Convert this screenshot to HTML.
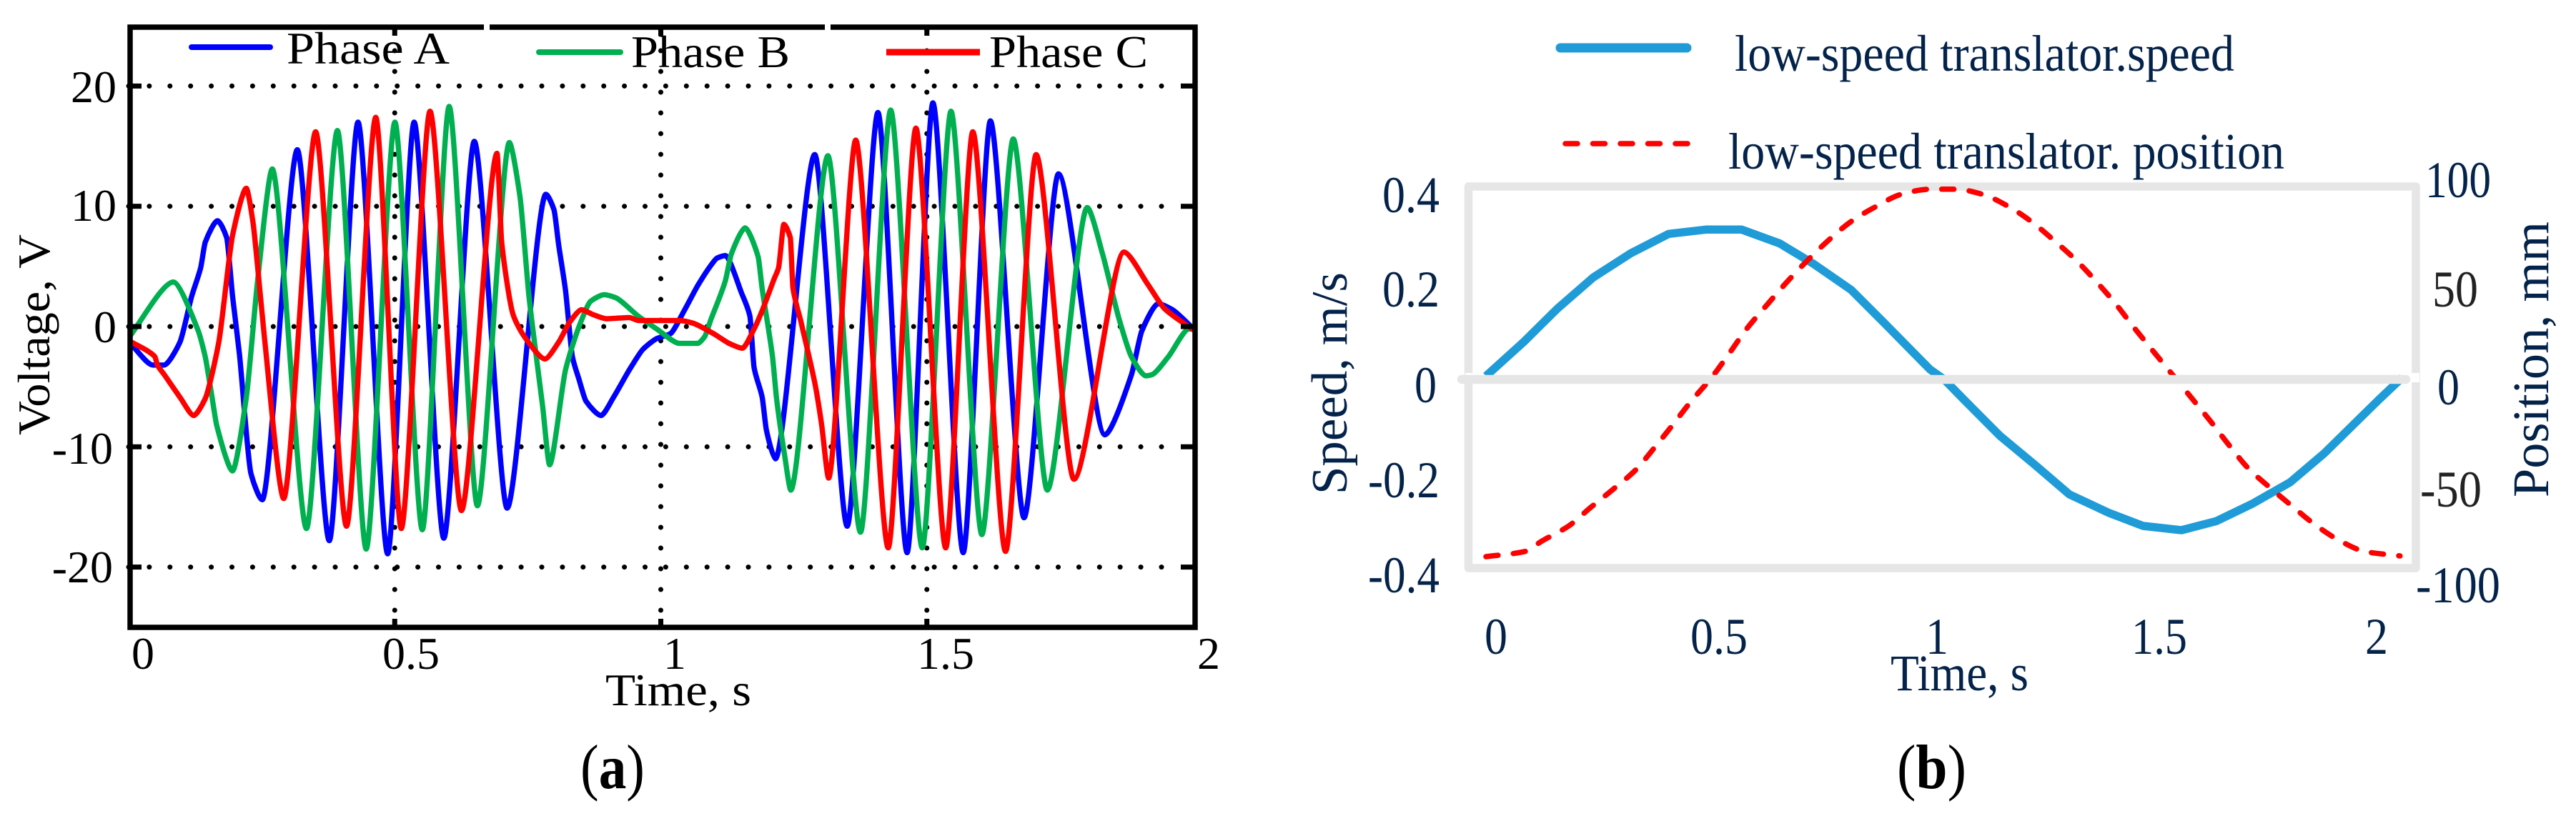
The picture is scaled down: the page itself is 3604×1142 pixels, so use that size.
<!DOCTYPE html>
<html lang="en">
<head>
<meta charset="utf-8">
<title>Phase voltage and translator motion</title>
<style>
html,body{margin:0;padding:0;background:#fff;width:3604px;height:1142px;overflow:hidden}
svg{display:block}
text{font-family:"Liberation Serif",serif}
.navy{fill:#04234a}
.blk{fill:#000}
</style>
</head>
<body>
<svg id="fig" xmlns="http://www.w3.org/2000/svg" width="3604" height="1142" viewBox="0 0 3604 1142">
  <rect x="0" y="0" width="3604" height="1142" fill="#fff"/>
  <g id="gridA"></g>
  <g id="linesA"></g>
  <g id="axesA"></g>
  <g font-size="64" class="blk">
    <line x1="268" y1="66" x2="378" y2="66" stroke="#0000ff" stroke-width="8" stroke-linecap="round"/>
    <text x="401" y="89" textLength="228" lengthAdjust="spacingAndGlyphs">Phase A</text>
    <line x1="754" y1="73" x2="868" y2="73" stroke="#00b050" stroke-width="8" stroke-linecap="round"/>
    <text x="883" y="94" textLength="222" lengthAdjust="spacingAndGlyphs">Phase B</text>
    <line x1="1240" y1="73" x2="1371" y2="73" stroke="#ff0000" stroke-width="9"/>
    <text x="1384" y="94" textLength="222" lengthAdjust="spacingAndGlyphs">Phase C</text>
  </g>
  <g font-size="64" class="blk">
    <text x="163" y="143" text-anchor="end">20</text>
    <text x="163" y="309" text-anchor="end">10</text>
    <text x="163" y="479" text-anchor="end">0</text>
    <text x="158" y="649" text-anchor="end">-10</text>
    <text x="158" y="815" text-anchor="end">-20</text>
  </g>
  <g font-size="64" class="blk">
    <text x="184" y="936">0</text>
    <text x="535" y="936">0.5</text>
    <text x="928" y="936">1</text>
    <text x="1283" y="936">1.5</text>
    <text x="1675" y="936">2</text>
  </g>
  <text x="847" y="987" font-size="64" class="blk" textLength="204" lengthAdjust="spacingAndGlyphs">Time, s</text>
  <text transform="translate(69,609) rotate(-90)" font-size="64" class="blk" textLength="281" lengthAdjust="spacingAndGlyphs">Voltage, V</text>
  <text x="812" y="1103" font-size="88" class="blk" textLength="90" lengthAdjust="spacingAndGlyphs">(<tspan font-weight="bold">a</tspan>)</text>

  <g id="frameB"></g>
  <g id="linesB"></g>
  <g id="zeroB"></g>
  <g font-size="72" class="navy">
    <line x1="2183" y1="67" x2="2360" y2="67" stroke="#1f9cd8" stroke-width="13" stroke-linecap="round"/>
    <text x="2427" y="99" textLength="699" lengthAdjust="spacingAndGlyphs">low-speed translator.speed</text>
    <line x1="2190" y1="201" x2="2364" y2="201" stroke="#ff0000" stroke-width="7.5" stroke-linecap="round" stroke-dasharray="17 21.5"/>
    <text x="2418" y="236" textLength="778" lengthAdjust="spacingAndGlyphs">low-speed translator. position</text>
  </g>
  <g font-size="72" class="navy">
    <text x="1934" y="297" textLength="80" lengthAdjust="spacingAndGlyphs">0.4</text>
    <text x="1934" y="429" textLength="80" lengthAdjust="spacingAndGlyphs">0.2</text>
    <text x="1979" y="563" textLength="31" lengthAdjust="spacingAndGlyphs">0</text>
    <text x="1914" y="696" textLength="100" lengthAdjust="spacingAndGlyphs">-0.2</text>
    <text x="1914" y="829" textLength="100" lengthAdjust="spacingAndGlyphs">-0.4</text>
  </g>
  <g font-size="72" class="navy">
    <text x="3393" y="276" textLength="92" lengthAdjust="spacingAndGlyphs">100</text>
    <text x="3403" y="429" textLength="64" lengthAdjust="spacingAndGlyphs" style="fill:#222">50</text>
    <text x="3410" y="566" textLength="31" lengthAdjust="spacingAndGlyphs">0</text>
    <text x="3386" y="709" textLength="86" lengthAdjust="spacingAndGlyphs" style="fill:#222">-50</text>
    <text x="3380" y="843" textLength="118" lengthAdjust="spacingAndGlyphs">-100</text>
  </g>
  <g font-size="72" class="navy">
    <text x="2077" y="915" textLength="32" lengthAdjust="spacingAndGlyphs">0</text>
    <text x="2365" y="915" textLength="80" lengthAdjust="spacingAndGlyphs">0.5</text>
    <text x="2694" y="915" textLength="32" lengthAdjust="spacingAndGlyphs">1</text>
    <text x="2982" y="915" textLength="78" lengthAdjust="spacingAndGlyphs">1.5</text>
    <text x="3309" y="915" textLength="32" lengthAdjust="spacingAndGlyphs">2</text>
  </g>
  <text x="2645" y="966" font-size="72" class="navy" textLength="193" lengthAdjust="spacingAndGlyphs">Time, s</text>
  <text transform="translate(1884,692) rotate(-90)" font-size="71" class="navy" textLength="311" lengthAdjust="spacingAndGlyphs">Speed, m/s</text>
  <text transform="translate(3565,696) rotate(-90)" font-size="72" class="navy" textLength="386" lengthAdjust="spacingAndGlyphs">Position, mm</text>
  <text x="2654" y="1103" font-size="88" class="blk" textLength="97" lengthAdjust="spacingAndGlyphs">(<tspan font-weight="bold">b</tspan>)</text>
</svg>
<script>
var voltageXTicks = [0.5, 1, 1.5];
var voltageYTicks = [20, 10, 0, -10, -20];

var phaseATime = [0,0.044,0.0655,0.095,0.117,0.134,0.1425,0.1657,0.1828,0.194,0.2068,0.2283,0.2497,0.3157,0.3757,0.4297,0.4854,0.5351,0.5908,0.6482,0.7099,0.7827,0.798,0.8067,0.8196,0.8325,0.845,0.858,0.8864,0.9096,0.9396,0.965,0.991,1.0167,1.0424,1.068,1.093,1.1045,1.1199,1.1507,1.1662,1.1739,1.1893,1.197,1.214,1.288,1.3489,1.4067,1.4615,1.51,1.567,1.618,1.6812,1.746,1.833,1.8832,1.9024,1.9333,1.96,2];
var phaseAVolts = [-1.3,-3.2,-3.2,-1.3,2.5,4.9,7,8.8,7.4,2.5,-2.3,-12.2,-14.4,14.7,-17.8,17,-18.9,17,-17.6,15.4,-15.1,11,9.7,6.8,3,-2.5,-4.4,-6.2,-7.4,-5.9,-3.6,-1.9,-1,-0.6,1.3,3.4,5.1,5.7,5.9,2.75,0.85,-3.4,-5.9,-8.6,-11,14.3,-16.6,17.8,-18.8,18.6,-18.8,17.1,-15.9,12.7,-9,-4,-0.4,1.9,1.4,-0.2];

var phaseBTime = [0,0.0826,0.1297,0.1425,0.1554,0.164,0.194,0.2197,0.241,0.2685,0.3328,0.391,0.445,0.499,0.5505,0.601,0.654,0.714,0.734,0.751,0.777,0.7896,0.8196,0.845,0.8667,0.8924,0.9138,0.9567,0.991,1.0338,1.068,1.081,1.093,1.12,1.131,1.157,1.1816,1.189,1.2086,1.216,1.2317,1.243,1.3127,1.374,1.4306,1.49,1.544,1.602,1.661,1.725,1.8,1.829,1.86,1.883,1.91,1.922,1.9526,1.991,2];
var phaseBVolts = [-0.85,3.7,-0.4,-2.5,-5.9,-8.2,-12,-5.9,3.8,13.1,-16.8,16.3,-18.5,17,-16.9,18.3,-14.9,15.3,10.8,2.5,-6.8,-11.5,-3.6,0,2.1,2.65,2.4,0.85,-0.2,-1.4,-1.4,-0.85,0.6,3.8,6,8.2,5.8,3.2,-2.5,-5.9,-10.8,-13.6,14.2,-17.1,18,-18.4,17.9,-17.3,15.6,-13.6,9.9,6,0.6,-2.5,-4.1,-4,-2.5,-0.2,-0.2];

var phaseCTime = [0,0.048,0.0526,0.0655,0.0954,0.121,0.1425,0.168,0.194,0.2197,0.2325,0.241,0.254,0.29,0.35,0.408,0.463,0.511,0.565,0.624,0.691,0.6996,0.721,0.7425,0.781,0.8067,0.828,0.8496,0.871,0.8967,0.9396,0.9567,1.034,1.058,1.1,1.127,1.152,1.174,1.189,1.212,1.22,1.23,1.242,1.247,1.262,1.289,1.301,1.314,1.365,1.426,1.478,1.534,1.585,1.6465,1.704,1.775,1.869,1.914,1.945,2];
var phaseCVolts = [-1.2,-2.5,-3.2,-4,-5.9,-7.4,-6,-1.3,7.6,11.5,8.6,5,-1,-14.3,16.2,-16.6,17.4,-16.8,17.9,-15.3,14.4,7,1,-0.85,-2.7,-1.3,0.4,1.4,1,0.65,0.75,0.5,0.5,0.3,-0.65,-1.4,-1.8,-0.2,1.3,4,4.9,8.5,7.4,3.2,0.4,-4.9,-8.2,-12.6,15.5,-18.4,16.5,-18.4,16.2,-18.7,14.3,-12.7,6.2,3.5,1.5,-0.3];

var speedTime = [0,0.083,0.156,0.234,0.317,0.399,0.48,0.558,0.641,0.714,0.797,0.866,0.969,1,1.044,1.122,1.195,1.273,1.36,1.434,1.518,1.594,1.672,1.755,1.83,1.948,2];
var speedValues = [0.007,0.079,0.148,0.213,0.264,0.304,0.313,0.313,0.284,0.242,0.187,0.121,0.021,0,-0.043,-0.118,-0.176,-0.24,-0.279,-0.306,-0.315,-0.296,-0.26,-0.215,-0.154,-0.043,0.004];

var positionTime = [0,0.083,0.123,0.18,0.229,0.279,0.326,0.367,0.407,0.445,0.495,0.532,0.568,0.613,0.655,0.7,0.747,0.797,0.852,0.906,0.969,1.025,1.084,1.14,1.19,1.24,1.287,1.332,1.374,1.415,1.457,1.498,1.54,1.58,1.622,1.663,1.714,1.76,1.81,1.864,1.92,1.995];
var positionValues = [-92.9,-90.3,-84.6,-76.9,-67,-57.3,-47.6,-36,-24,-12.3,1.8,14,26.2,39,50.6,62,72.8,82.8,90.7,97,99.7,99.7,97,90.7,82.8,72.8,62.7,51.3,39.7,27,14.6,2.6,-9.7,-21.5,-34.5,-46.4,-57.3,-66.5,-76.2,-84.6,-90.3,-92.5];

var NS = 'http://www.w3.org/2000/svg';
function voltX(t){ return 181 + 744.5 * t; }
function voltY(v){ return 457 - 16.83 * v; }
function motionX(t){ return 2079 + 641 * t; }
function speedY(v){ return 531 - 670 * v; }
function positionY(p){ return 531 - 2.67 * p; }

function shape(parent, tag, attrs){
  var el = document.createElementNS(NS, tag);
  for (var k in attrs) el.setAttribute(k, attrs[k]);
  document.getElementById(parent).appendChild(el);
  return el;
}

/* monotone cubic path through the read points; f sets the handle length,
   so a smaller f gives straighter flanks and tighter tips */
function smoothPath(xs, ys, f){
  var n = xs.length, d = [], m = [], i;
  for (i = 0; i < n - 1; i++) d.push((ys[i+1] - ys[i]) / (xs[i+1] - xs[i]));
  m.push(d[0]);
  for (i = 1; i < n - 1; i++) {
    m.push(d[i-1] * d[i] <= 0 ? 0 : 2 * d[i-1] * d[i] / (d[i-1] + d[i]));
  }
  m.push(d[n-2]);
  var s = 'M' + xs[0].toFixed(1) + ' ' + ys[0].toFixed(1);
  for (i = 0; i < n - 1; i++) {
    var h = (xs[i+1] - xs[i]) * f;
    s += 'C' + (xs[i] + h).toFixed(1) + ' ' + (ys[i] + m[i] * h).toFixed(1) + ' '
       + (xs[i+1] - h).toFixed(1) + ' ' + (ys[i+1] - m[i+1] * h).toFixed(1) + ' '
       + xs[i+1].toFixed(1) + ' ' + ys[i+1].toFixed(1);
  }
  return s;
}

/* panel (a) grid */
voltageYTicks.forEach(function(v){
  var g = shape('gridA', 'line', {x1:180, x2:1650, y1:voltY(v), y2:voltY(v), stroke:'#000', 'stroke-width':7, 'stroke-linecap':'round', 'stroke-dasharray':'0 28.9'});
  
  
});
voltageXTicks.forEach(function(t){
  var g = shape('gridA', 'line', {x1:voltX(t) - 1, x2:voltX(t) - 1, y1:42, y2:878, stroke:'#000', 'stroke-width':7, 'stroke-linecap':'round', 'stroke-dasharray':'0 29'});
  
  
});

/* panel (a) series */
[[phaseATime, phaseAVolts, '#0000ff', 'phase-a-line'],
 [phaseBTime, phaseBVolts, '#00b050', 'phase-b-line'],
 [phaseCTime, phaseCVolts, '#ff0000', 'phase-c-line']].forEach(function(s){
  var p = shape('linesA', 'path', {d:smoothPath(s[0].map(voltX), s[1].map(voltY), 0.24), fill:'none', stroke:s[2], 'stroke-width':7.4, 'stroke-linejoin':'round'});
  
  
});

/* panel (a) axes */
var frameA = shape('axesA', 'rect', {x:182, y:38, width:1490, height:840, fill:'none', stroke:'#000', 'stroke-width':7.5});


[681, 1158].forEach(function(x){
  var w = shape('axesA', 'rect', {x:x - 4, y:33, width:8, height:10, fill:'#fff'});
  
  
});
voltageYTicks.forEach(function(v){
  var a = shape('axesA', 'line', {x1:182, x2:198, y1:voltY(v), y2:voltY(v), stroke:'#000', 'stroke-width':7});
  
  
  var b = shape('axesA', 'line', {x1:1652, x2:1672, y1:voltY(v), y2:voltY(v), stroke:'#000', 'stroke-width':7});
  
  
});
voltageXTicks.forEach(function(t){
  var a = shape('axesA', 'line', {x1:voltX(t) - 1, x2:voltX(t) - 1, y1:866, y2:878, stroke:'#000', 'stroke-width':7});
  
  
  var b = shape('axesA', 'line', {x1:voltX(t) - 1, x2:voltX(t) - 1, y1:38, y2:50, stroke:'#000', 'stroke-width':7});
  
  
});

/* panel (b) frame, series, zero line */
var frameB = shape('frameB', 'rect', {x:2054.5, y:261, width:1325.5, height:534, fill:'none', stroke:'#e6e6e6', 'stroke-width':11.5, 'stroke-linejoin':'round'});


var notchLeft = shape('frameB', 'rect', {x:2050, y:522, width:22, height:6, fill:'#fff'});


var notchRight = shape('frameB', 'rect', {x:3368, y:522, width:17, height:13, fill:'#fff'});



var speedLine = shape('linesB', 'polyline', {points:speedTime.map(function(t, i){ return motionX(t).toFixed(1) + ',' + speedY(speedValues[i]).toFixed(1); }).join(' '), fill:'none', stroke:'#1f9cd8', 'stroke-width':11.5, 'stroke-linejoin':'bevel'});



var positionLine = shape('linesB', 'path', {d:smoothPath(positionTime.map(motionX), positionValues.map(positionY), 1 / 3), fill:'none', stroke:'#ff0000', 'stroke-width':7.5, 'stroke-linecap':'round', 'stroke-dasharray':'17 21.5'});



var zeroLine = shape('zeroB', 'line', {x1:2045, x2:3366, y1:speedY(0), y2:speedY(0), stroke:'#e6e6e6', 'stroke-width':12.5, 'stroke-linecap':'round'});


</script>
</body>
</html>
